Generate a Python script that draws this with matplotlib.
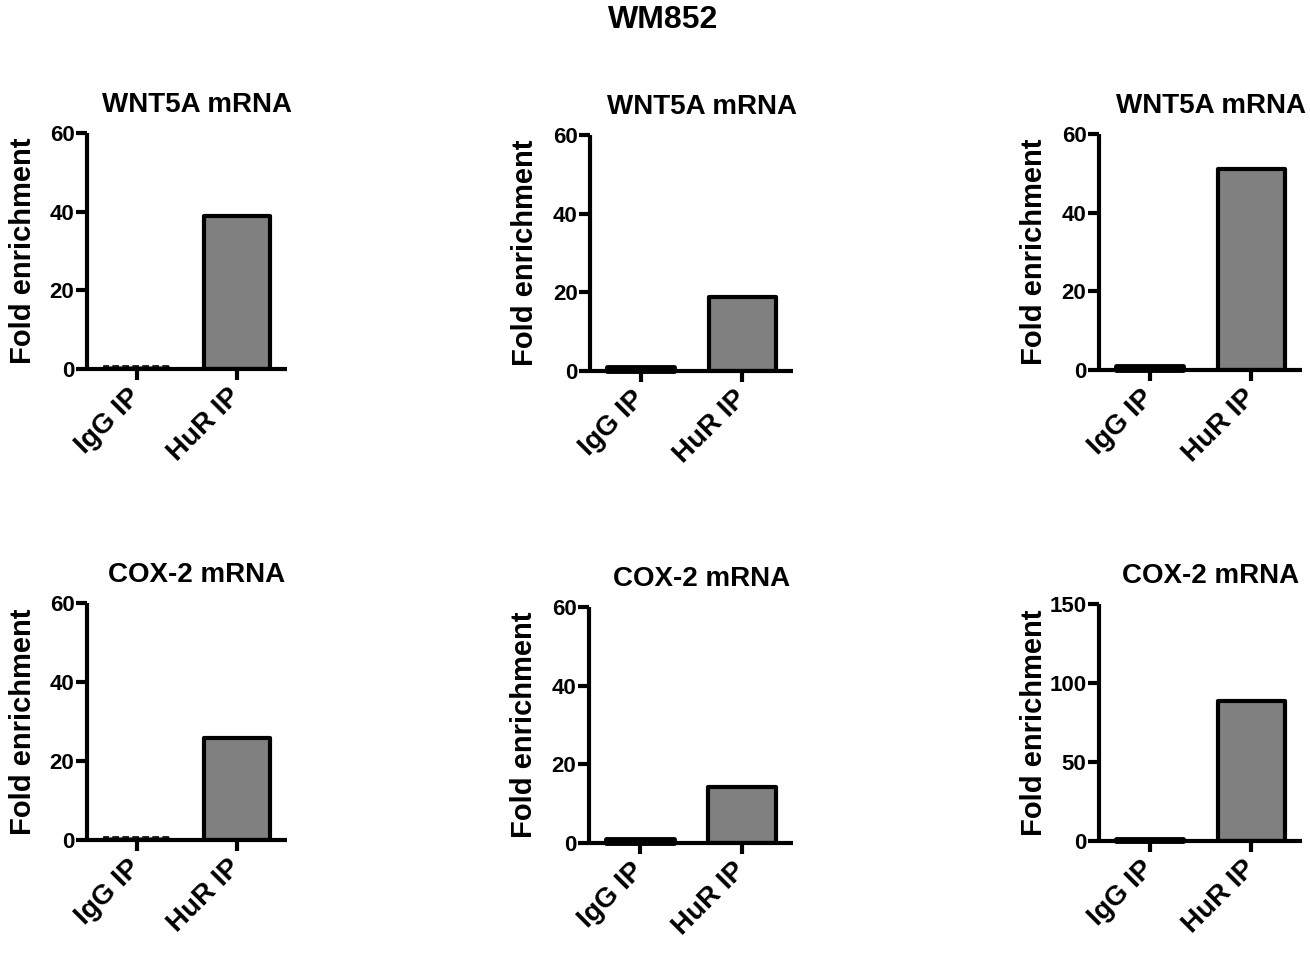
import numpy as np
import matplotlib
matplotlib.use("Agg")
import matplotlib.pyplot as plt

plt.rcParams['font.family'] = ['Liberation Sans', 'DejaVu Sans']
plt.rcParams['font.weight'] = 'bold'

# --- data ---
groups = ["IgG IP", "HuR IP"]
top_title = "WNT5A mRNA"
bottom_title = "COX-2 mRNA"
wnt5a_igg = [0.8, 1.0, 1.0]
wnt5a_hur = [39.0, 18.8, 51.0]
cox2_igg = [0.8, 1.0, 1.0]
cox2_hur = [25.8, 14.2, 88.6]
ymax_top = [60, 60, 60]
ymax_bottom = [60, 60, 150]
yticks_top = [[0, 20, 40, 60]] * 3
yticks_bottom = [[0, 20, 40, 60], [0, 20, 40, 60], [0, 50, 100, 150]]

# --- layout (pixel boxes: left, right, top, bottom) ---
W, H = 1310, 955
boxes_top = [(87, 287, 133, 369), (590, 793, 135, 371), (1099, 1302, 134, 370)]
boxes_bottom = [(87, 287, 603, 840), (589, 793, 607, 843), (1099, 1302, 604, 841)]
dashed_igg = [True, False, False]  # first column's IgG bar drawn thin/dashed

fig = plt.figure(figsize=(W / 100, H / 100), dpi=100)
fig.text(0.506, 1 - 28 / H, "WM852", ha='center', va='baseline',
         fontsize=23, fontweight='bold')


def panel(box, title, igg, hur, ymax, yticks, dashed):
    l, r, t, b = box
    ax = fig.add_axes([l / W, 1 - b / H, (r - l) / W, (b - t) / H])
    x = np.arange(len(groups))
    ax.bar(x[1], hur, width=0.66, color='#808080', edgecolor='black',
           linewidth=3, joinstyle='round', zorder=2)
    if dashed:
        ax.bar(x[0], igg, width=0.66, color='#808080', edgecolor='black',
               linewidth=1.2, linestyle=(0, (4, 2)), zorder=2, clip_on=False)
    else:
        ax.bar(x[0], igg, width=0.66, color='black', edgecolor='black',
               linewidth=3.5, joinstyle='round', capstyle='round',
               zorder=2, clip_on=False)
    ax.set_xlim(-0.5, 1.5)
    ax.set_ylim(0, ymax)
    ax.set_yticks(yticks)
    ax.set_xticks(x)
    ax.set_xticklabels(groups, rotation=45, ha='right', va='center',
                       rotation_mode='anchor', fontsize=20, fontweight='bold')
    for lab in ax.get_yticklabels():
        lab.set_fontsize(16)
        lab.set_fontweight('bold')
    for s in ['top', 'right']:
        ax.spines[s].set_visible(False)
    for s in ['left', 'bottom']:
        ax.spines[s].set_linewidth(3)
        ax.spines[s].set_capstyle('butt')
    ax.tick_params(axis='y', length=8, width=3, pad=1)
    ax.tick_params(axis='x', length=8, width=3, pad=9)
    ax.set_ylabel("Fold enrichment", fontsize=21, fontweight='bold')
    ax.yaxis.set_label_coords(-0.25, 0.5)
    ax.text(0.55, 1 + 21 / (b - t), title, transform=ax.transAxes,
            ha='center', va='baseline', fontsize=20, fontweight='bold')
    return ax


for i in range(3):
    panel(boxes_top[i], top_title, wnt5a_igg[i], wnt5a_hur[i],
          ymax_top[i], yticks_top[i], dashed_igg[i])
    panel(boxes_bottom[i], bottom_title, cox2_igg[i], cox2_hur[i],
          ymax_bottom[i], yticks_bottom[i], dashed_igg[i])

fig.savefig("out.png", dpi=100)
